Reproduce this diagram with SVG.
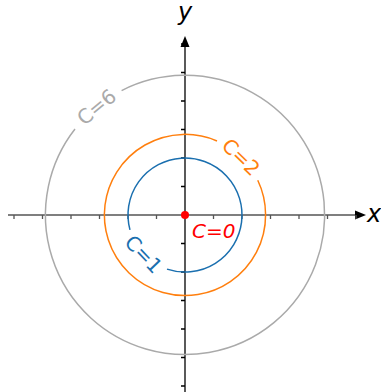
<svg xmlns="http://www.w3.org/2000/svg" width="381" height="392" viewBox="0 0 381 392">
<style>
.lbl{font-family:"DejaVu Sans",sans-serif;font-size:20px;text-anchor:middle;dominant-baseline:central}
.ax{font-family:"DejaVu Sans",sans-serif;font-size:24px;font-style:italic;text-anchor:middle}
.curve{fill:none;stroke-width:1.5}
</style>
<rect width="381" height="392" fill="#fff"/>
<g id="axes">
<line x1="8" y1="215" x2="358" y2="215" stroke="#555" stroke-width="1.6"/>
<polygon points="366,215 355,210.5 355,219.5" fill="#000"/>
<line x1="185" y1="392" x2="185" y2="44" stroke="#000" stroke-width="1.3"/>
<polygon points="185,36 180.5,47 189.5,47" fill="#000"/>
<path d="M14 215v4M42.5 215v4M71 215v4M99.5 215v4M128 215v4M156.5 215v4M213.5 215v4M242 215v4M270.5 215v4M299 215v4M327.5 215v4M356 215v4" stroke="#555" stroke-width="1.3"/>
<path d="M181 44h4M181 72.5h4M181 101h4M181 129.5h4M181 158h4M181 186.5h4M181 243.5h4M181 272h4M181 300.5h4M181 329h4M181 357.5h4M181 386h4" stroke="#000" stroke-width="1.3"/>
<text class="ax" x="374" y="222">x</text>
<text class="ax" x="185" y="20">y</text>
</g>
<g id="c6">
<path class="curve" stroke="#aaaaaa" d="M75.0 129.05 A139.6 139.6 0 1 0 121.6 90.6"/>
<text class="lbl" fill="#aaaaaa" transform="translate(96.6 107) rotate(-39.3)">C=6</text>
</g>
<g id="c2">
<path class="curve" stroke="#ff7f0e" d="M217.0 141.0 A80.6 80.6 0 1 0 257.75 180.3"/>
<text class="lbl" fill="#ff7f0e" transform="translate(241 157) rotate(44)">C=2</text>
</g>
<g id="c1">
<path class="curve" stroke="#1a6faf" d="M167.0 269.1 A57 57 0 1 0 129.97 229.85"/>
<text class="lbl" fill="#1a6faf" transform="translate(143.6 254.2) rotate(46.6)">C=1</text>
</g>
<g id="c0">
<circle cx="185" cy="215" r="4" fill="#ff0000"/>
<text x="192" y="238" fill="#ff0000" style="font-family:'DejaVu Sans',sans-serif;font-size:20px;font-style:italic">C=0</text>
</g>
</svg>
